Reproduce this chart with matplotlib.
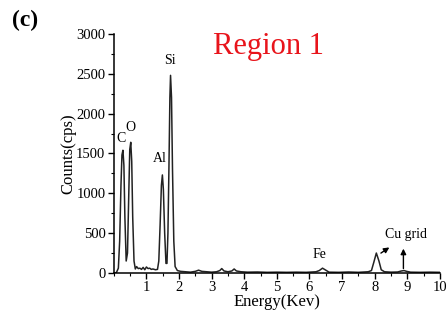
import matplotlib
matplotlib.use("Agg")
import matplotlib.pyplot as plt
from matplotlib.ticker import MultipleLocator

plt.rcParams['font.family'] = ['Liberation Serif', 'DejaVu Serif']

# EDS spectrum (energy in keV, counts in cps)
energy = [0.0, 0.08, 0.14, 0.18, 0.22, 0.25, 0.28, 0.31, 0.34, 0.38, 0.42, 0.46, 0.49,
          0.52, 0.55, 0.58, 0.62, 0.66, 0.70, 0.75, 0.80, 0.85, 0.90, 0.95, 1.00, 1.05,
          1.10, 1.15, 1.20, 1.28, 1.34, 1.38, 1.42, 1.46, 1.49, 1.52, 1.56, 1.60, 1.63,
          1.66, 1.69, 1.72, 1.74, 1.77, 1.80, 1.84, 1.88, 1.95, 2.05, 2.2, 2.35, 2.5,
          2.6, 2.7, 2.85, 3.0, 3.15, 3.25, 3.31, 3.38, 3.5, 3.62, 3.69, 3.76, 3.9, 4.1,
          4.4, 4.7, 5.0, 5.3, 5.6, 5.9, 6.2, 6.3, 6.4, 6.5, 6.6, 6.9, 7.2, 7.5, 7.8,
          7.9, 7.97, 8.05, 8.13, 8.2, 8.3, 8.5, 8.7, 8.82, 8.9, 8.98, 9.1, 9.4, 9.7, 10.0]
counts = [0, 5, 60, 400, 1100, 1480, 1540, 1350, 700, 150, 250, 1000, 1550,
          1640, 1400, 700, 150, 50, 80, 55, 60, 45, 70, 40, 75, 55,
          60, 45, 50, 40, 45, 150, 600, 1100, 1230, 1050, 500, 120, 120,
          500, 1300, 2200, 2480, 2200, 1300, 400, 80, 30, 20, 15, 10, 20,
          35, 20, 15, 10, 15, 30, 55, 25, 15, 25, 50, 25, 15, 10,
          12, 8, 10, 8, 10, 8, 15, 30, 60, 35, 10, 8, 12, 8, 15,
          30, 130, 250, 150, 40, 15, 10, 12, 25, 30, 20, 10, 8, 10, 8]

peak_names = ["C", "O", "Al", "Si", "Fe"]
peak_label_x = [0.22, 0.50, 1.40, 1.72, 6.30]
peak_label_y = [1600, 1750, 1350, 2580, 150]

fig = plt.figure(figsize=(4.48, 3.2), dpi=100)
ax = fig.add_axes([0.254, 0.147, 0.728, 0.747])

ax.plot(energy, counts, color='#222222', lw=1.1)

ax.set_xlim(0, 10)
ax.set_ylim(0, 3000)
ax.xaxis.set_major_locator(MultipleLocator(1))
ax.xaxis.set_minor_locator(MultipleLocator(0.5))
ax.yaxis.set_major_locator(MultipleLocator(500))
ax.yaxis.set_minor_locator(MultipleLocator(250))
ax.set_xticks([1, 2, 3, 4, 5, 6, 7, 8, 9, 10])
ax.set_yticks([0, 500, 1000, 1500, 2000, 2500, 3000])
ax.tick_params(which='major', direction='out', length=4, width=1, labelsize=10.5, pad=2)
ax.tick_params(which='minor', direction='out', length=2.5, width=0.8)
for s in ['top', 'right']:
    ax.spines[s].set_visible(False)
for s in ['left', 'bottom']:
    ax.spines[s].set_linewidth(1.1)

ax.set_xlabel("Energy(Kev)", fontsize=12, labelpad=0)
ax.set_ylabel("Counts(cps)", fontsize=12, labelpad=0)

for name, lx, ly in zip(peak_names, peak_label_x, peak_label_y):
    ax.text(lx, ly, name, fontsize=10, ha='center', va='bottom')

ax.annotate("", xy=(8.52, 340), xytext=(8.12, 230),
            arrowprops=dict(arrowstyle='-|>', color='black', lw=1, mutation_scale=8))
ax.annotate("", xy=(8.88, 340), xytext=(8.88, 20),
            arrowprops=dict(arrowstyle='-|>', color='black', lw=1, mutation_scale=8))
ax.text(8.95, 400, "Cu grid", fontsize=10, ha='center', va='bottom')

fig.text(0.6, 0.855, "Region 1", color='#e8141b', fontsize=22, ha='center', va='center')
fig.text(0.055, 0.935, "(c)", fontsize=17, fontweight='bold', ha='center', va='center')

fig.savefig("out.png", dpi=100)
